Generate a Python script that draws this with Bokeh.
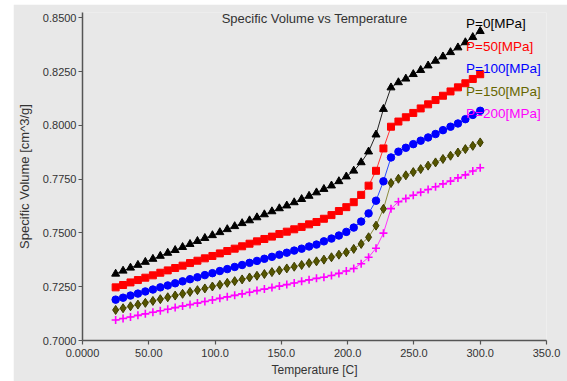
from bokeh.plotting import figure
from bokeh.layouts import column, row
from bokeh.models import (Range1d, FixedTicker, Legend, LegendItem, Label,
                          ColumnDataSource, Spacer)
from bokeh.embed import file_html
from bokeh.resources import INLINE

# ---- data ----
temperature = [25.0, 30.6, 36.2, 41.8, 47.4, 53.1, 58.7, 64.3, 69.9, 75.5,
               81.1, 86.7, 92.3, 98.0, 103.6, 109.2, 114.8, 120.4, 126.0, 131.6,
               137.2, 142.9, 148.5, 154.1, 159.7, 165.3, 170.9, 176.5, 182.1, 187.8,
               193.4, 199.0, 204.6, 210.2, 215.8, 221.4, 227.0, 232.7, 238.3, 243.9,
               249.5, 255.1, 260.7, 266.3, 271.9, 277.6, 283.2, 288.8, 294.4, 300.0]

v_p0 = [0.7310, 0.7324, 0.7338, 0.7351, 0.7365, 0.7379, 0.7393, 0.7407, 0.7420, 0.7434,
        0.7448, 0.7462, 0.7476, 0.7489, 0.7503, 0.7517, 0.7531, 0.7545, 0.7558, 0.7572,
        0.7586, 0.7600, 0.7614, 0.7627, 0.7642, 0.7657, 0.7672, 0.7688, 0.7704, 0.7720,
        0.7740, 0.7762, 0.7789, 0.7828, 0.7878, 0.7957, 0.8076, 0.8176, 0.8200, 0.8217,
        0.8238, 0.8257, 0.8278, 0.8300, 0.8320, 0.8340, 0.8362, 0.8386, 0.8410, 0.8438]

v_p50 = [0.7247, 0.7258, 0.7270, 0.7281, 0.7292, 0.7303, 0.7315, 0.7326, 0.7337, 0.7348,
         0.7360, 0.7371, 0.7382, 0.7393, 0.7405, 0.7416, 0.7427, 0.7438, 0.7450, 0.7461,
         0.7472, 0.7483, 0.7495, 0.7506, 0.7517, 0.7528, 0.7540, 0.7551, 0.7566, 0.7583,
         0.7602, 0.7620, 0.7643, 0.7677, 0.7720, 0.7789, 0.7893, 0.7994, 0.8018, 0.8038,
         0.8058, 0.8079, 0.8098, 0.8118, 0.8138, 0.8158, 0.8177, 0.8196, 0.8216, 0.8238]

v_p100 = [0.7190, 0.7199, 0.7209, 0.7218, 0.7228, 0.7237, 0.7247, 0.7256, 0.7266, 0.7275,
          0.7285, 0.7294, 0.7304, 0.7313, 0.7323, 0.7332, 0.7342, 0.7351, 0.7361, 0.7370,
          0.7380, 0.7389, 0.7399, 0.7408, 0.7418, 0.7427, 0.7437, 0.7446, 0.7461, 0.7474,
          0.7488, 0.7505, 0.7525, 0.7553, 0.7591, 0.7650, 0.7740, 0.7851, 0.7878, 0.7896,
          0.7913, 0.7929, 0.7944, 0.7960, 0.7978, 0.7994, 0.8009, 0.8029, 0.8049, 0.8068]

v_p150 = [0.7142, 0.7150, 0.7159, 0.7167, 0.7175, 0.7184, 0.7192, 0.7201, 0.7209, 0.7217,
          0.7226, 0.7234, 0.7242, 0.7251, 0.7259, 0.7268, 0.7276, 0.7284, 0.7293, 0.7301,
          0.7309, 0.7318, 0.7326, 0.7335, 0.7343, 0.7351, 0.7360, 0.7368, 0.7376, 0.7387,
          0.7399, 0.7410, 0.7426, 0.7449, 0.7480, 0.7534, 0.7612, 0.7732, 0.7752, 0.7768,
          0.7783, 0.7797, 0.7813, 0.7828, 0.7844, 0.7859, 0.7874, 0.7890, 0.7905, 0.7921]

v_p200 = [0.7095, 0.7102, 0.7109, 0.7117, 0.7124, 0.7131, 0.7138, 0.7145, 0.7153, 0.7160,
          0.7167, 0.7174, 0.7181, 0.7188, 0.7196, 0.7203, 0.7210, 0.7217, 0.7224, 0.7232,
          0.7239, 0.7246, 0.7253, 0.7260, 0.7267, 0.7275, 0.7282, 0.7289, 0.7294, 0.7302,
          0.7312, 0.7323, 0.7335, 0.7357, 0.7387, 0.7429, 0.7499, 0.7613, 0.7645, 0.7660,
          0.7675, 0.7689, 0.7702, 0.7715, 0.7728, 0.7741, 0.7756, 0.7770, 0.7788, 0.7803]

series_labels = ["P=0[MPa]", "P=50[MPa]", "P=100[MPa]", "P=150[MPa]", "P=200[MPa]"]

x_ticks = [0, 50, 100, 150, 200, 250, 300, 350]
x_tick_labels = ["0.0000", "50.00", "100.0", "150.0", "200.0", "250.0", "300.0", "350.0"]
y_ticks = [0.700, 0.725, 0.750, 0.775, 0.800, 0.825, 0.850]
y_tick_labels = ["0.7000", "0.7250", "0.7500", "0.7750", "0.8000", "0.8250", "0.8500"]

title_text = "Specific Volume vs Temperature"
x_label = "Temperature [C]"
y_label = "Specific Volume [cm^3/g]"

# ---- styles ----
FONT = "Liberation Sans"
BG = "#e8e8e8"
styles = [
    dict(marker="triangle", size=8, fill="#000000", edge="#000000", line="#222222", text="#000000", lsize=11, lw=1),
    dict(marker="square", size=7, fill="#ff0000", edge="#ff0000", line="#ff3333", text="#ff0000", lsize=10, lw=1),
    dict(marker="circle", size=7.5, fill="#0000ff", edge="#0000ff", line="#2a4cff", text="#0000ff", lsize=10, lw=1),
    dict(marker="diamond", size=9, fill="#555500", edge="#3d3d00", line="#8c8c3c", text="#666600", lsize=10, lw=1),
    dict(marker="cross", size=8, fill="#ff00ff", edge="#ff00ff", line="#ff33ff", text="#ff00ff", lsize=10, lw=1.6),
]

p = figure(width=554, height=377, title=None,
           x_range=Range1d(0, 350), y_range=Range1d(0.70, 0.8525),
           output_backend="svg", toolbar_location=None,
           min_border_left=65, min_border_right=21, min_border_top=8, min_border_bottom=41,
           background_fill_color=BG, border_fill_color=BG, outline_line_color=None)

p.xgrid.visible = False
p.ygrid.visible = False

for ax in (p.xaxis[0], p.yaxis[0]):
    ax.axis_line_color = "#555555"
    ax.axis_line_width = 1.5
    ax.major_tick_line_color = "#555555"
    ax.major_tick_line_width = 1.2
    ax.major_tick_out = 4
    ax.major_tick_in = 0
    ax.minor_tick_line_color = None
    ax.major_label_text_font = FONT
    ax.major_label_text_font_size = "11px"
    ax.major_label_text_color = "#333333"
    ax.axis_label_text_font = FONT
    ax.axis_label_text_font_size = "12px"
    ax.axis_label_text_font_style = "normal"
    ax.axis_label_text_color = "#333333"

p.yaxis.axis_label_text_font_size = "13px"
p.xaxis.ticker = FixedTicker(ticks=x_ticks)
p.xaxis.major_label_overrides = dict(zip(x_ticks, x_tick_labels))
p.yaxis.ticker = FixedTicker(ticks=y_ticks)
p.yaxis.major_label_overrides = dict(zip(y_ticks, y_tick_labels))
p.xaxis.axis_label = x_label
p.yaxis.axis_label = y_label
p.xaxis.major_label_standoff = 4
p.xaxis.axis_label_standoff = 3
p.yaxis.major_label_standoff = 2
p.yaxis.axis_label_standoff = 8

all_series = [v_p0, v_p50, v_p100, v_p150, v_p200]
legend_bottoms = [309.5, 286.5, 264, 241.5, 219]

for vals, lab, st, lb in zip(all_series, series_labels, styles, legend_bottoms):
    src = ColumnDataSource(dict(x=temperature, y=vals))
    p.line("x", "y", source=src, line_color=st["line"], line_width=1)
    p.scatter("x", "y", source=src, marker=st["marker"], size=st["size"],
              fill_color=st["fill"], line_color=st["edge"], line_width=st["lw"])
    dummy = p.scatter(x=[], y=[], marker=st["marker"], size=st["lsize"],
                      fill_color=st["fill"], line_color=st["edge"], line_width=st["lw"] + 0.4)
    leg = Legend(items=[LegendItem(label=lab, renderers=[dummy])],
                 location=(368, lb), padding=0, margin=0, spacing=0,
                 glyph_width=14, glyph_height=14, label_height=14, label_standoff=2,
                 label_text_font=FONT, label_text_font_size="13.5px",
                 label_text_color=st["text"],
                 background_fill_alpha=0, border_line_alpha=0)
    p.add_layout(leg)

p.add_layout(Label(x=175, y=0.8497, text=title_text, text_align="center",
                   text_baseline="middle", text_font=FONT, text_font_size="13px",
                   text_color="#333333"))

layout = column(Spacer(height=4, width=567),
                row(Spacer(width=13, height=377), p, spacing=0),
                spacing=0)

open("out.html", "w").write(file_html(layout, INLINE))
